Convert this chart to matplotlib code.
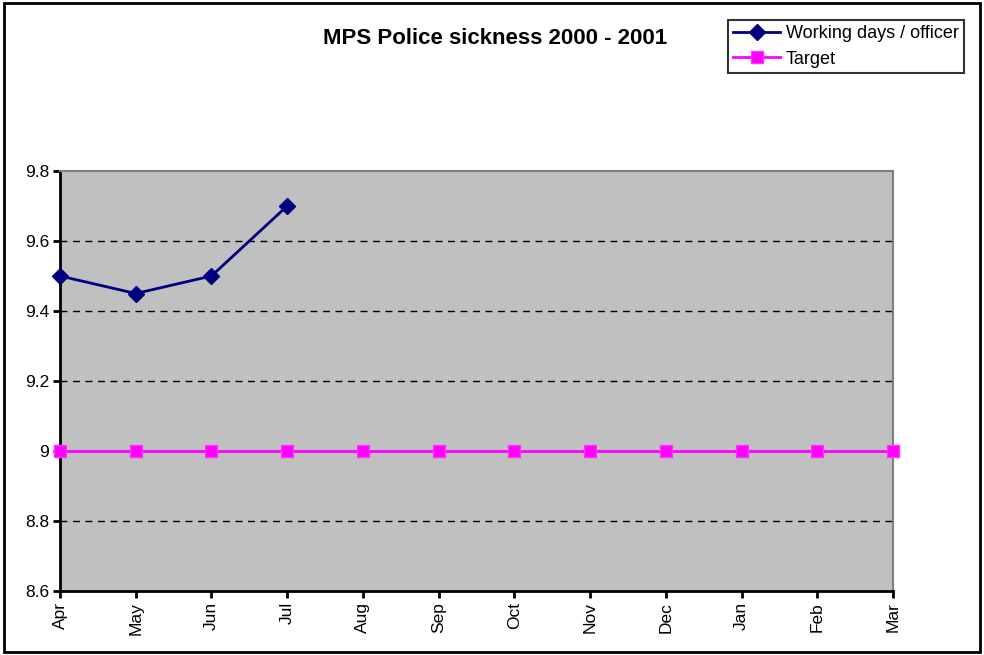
import matplotlib
matplotlib.use("Agg")
import matplotlib.pyplot as plt
from matplotlib.patches import Rectangle

plt.rcParams['font.family'] = ['Liberation Sans', 'DejaVu Sans']

months = ['Apr', 'May', 'Jun', 'Jul', 'Aug', 'Sep', 'Oct', 'Nov', 'Dec', 'Jan', 'Feb', 'Mar']
working_days = [9.5, 9.45, 9.5, 9.7]
target = [9.0] * 12
y_ticks = [8.6, 8.8, 9.0, 9.2, 9.4, 9.6, 9.8]
y_labels = ['8.6', '8.8', '9', '9.2', '9.4', '9.6', '9.8']

fig = plt.figure(figsize=(9.84, 6.55), dpi=100)
ax = fig.add_axes([60 / 984, 1 - 591 / 655, 833 / 984, 420 / 655])
ax.set_facecolor('#c0c0c0')

# outer chart frame
fig.patches.append(Rectangle((4 / 984, 3 / 655), 976 / 984, 649 / 655,
                             transform=fig.transFigure, fill=False,
                             edgecolor='black', linewidth=2))

x = list(range(len(months)))
for y in [8.8, 9.2, 9.4, 9.6]:
    ax.axhline(y, color='black', linestyle=(0, (5, 4)), linewidth=1, zorder=1)

ax.plot(x, target, color='#ff00ff', linewidth=2, marker='s', markersize=8,
        markerfacecolor='#ff00ff', markeredgecolor='#ff33ff', label='Target',
        clip_on=False, zorder=3)
ax.plot(x[:len(working_days)], working_days, color='#000080', linewidth=2,
        marker='D', markersize=8, markerfacecolor='#000080',
        label='Working days / officer', clip_on=False, zorder=4)

ax.set_xlim(0, 11)
ax.set_ylim(8.6, 9.8)
ax.set_xticks(x)
ax.set_xticklabels(months, rotation=90, fontsize=12.5)
ax.set_yticks(y_ticks)
ax.set_yticklabels(y_labels, fontsize=12.5)
ax.tick_params(direction='out', length=5, width=2, color='black', pad=3)

for side in ['left', 'bottom']:
    ax.spines[side].set_linewidth(2)
    ax.spines[side].set_color('black')
for side in ['top', 'right']:
    ax.spines[side].set_linewidth(1.5)
    ax.spines[side].set_color('#808080')

fig.text(0.503, 1 - 38 / 655, 'MPS Police sickness 2000 - 2001', ha='center', va='center',
         fontsize=16, fontweight='bold')

handles, labels = ax.get_legend_handles_labels()
leg = fig.legend(handles[::-1], labels[::-1], loc='upper left',
                 bbox_to_anchor=(728 / 984, 1 - 20 / 655), fontsize=13,
                 frameon=True, fancybox=False, borderpad=0.3, handlelength=2.6,
                 handletextpad=0.3, labelspacing=0.45, borderaxespad=0)
leg.get_frame().set_edgecolor('black')
leg.get_frame().set_linewidth(1.5)

fig.savefig('out.png', dpi=100)
